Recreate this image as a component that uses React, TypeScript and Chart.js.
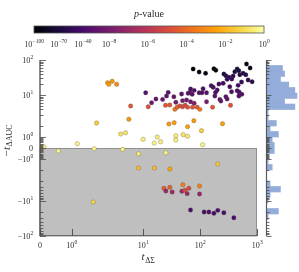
import React, { useEffect, useRef } from 'react';
import { Chart, registerables, LinearScale } from 'chart.js';

// ---------------- data ----------------
const xVals = [
  75.7, 96.4, 125, 175, 189, 654, 757, 262, 284, 324, 408, 448, 480, 499, 570, 636, 381, 361, 299, 698,
  821, 535, 466, 333, 254, 214, 157, 170, 200, 187, 130, 113, 96.4, 108, 78.8, 68.1, 66.2, 72.7, 61.8, 47.4,
  34.7, 27.6, 25.8, 22.0, 16.8, 14.1, 11.1, 223, 232, 182, 284, 299, 357, 448, 485, 541, 480, 37.6, 49.3, 58.0,
  68.1, 78.8, 130, 12.3, 24.8, 29.5, 36.1, 39.6, 44.2, 49.3, 54.8, 60.4, 73.9, 89.0, 99.1, 166, 343, 28.4, 35.1, 77.9,
  60.4, 248, 106, 37.6, 37.6, 50.5, 60.4, 17.7, 20.3, 15.7, 10.0, 111, 25.1, 2.38, 2.51, 2.87, 3.43, 6.04, 5.63, 1.79,
  4.03, 4.93, 0.126, 1.18, 0.58, 1.71, 4.37, 8.34, 8.34, 1.68, 15.9, 29.5, 205, 23.2, 25.1, 29.5, 32.4, 49.9, 47.9, 54.1,
  63.6, 59.4, 98.0, 98.0, 68.1, 118, 143, 175, 205, 262, 392,
];
const yVals = [
  55.3, 45.4, 41.7, 56.4, 50.8, 76.9, 59.1, 39.8, 35.6, 32.1, 46.4, 55.3, 49.4, 38.0, 41.7, 38.0, 34.9, 28.6, 28.1, 26.8,
  24.0, 23.5, 18.9, 17.3, 21.6, 20.6, 18.5, 16.6, 13.9, 11.9, 11.6, 15.1, 11.6, 11.6, 13.6, 14.8, 11.9, 10.5, 11.2, 10.7,
  8.9, 11.9, 9.4, 7.5, 7.7, 6.0, 11.6, 7.5, 6.7, 9.4, 8.9, 7.7, 12.4, 13.3, 12.2, 10.5, 9.4, 6.2, 6.9, 7.2,
  6.4, 5.8, 6.4, 4.6, 5.1, 5.2, 3.9, 4.5, 4.9, 4.6, 5.1, 4.5, 4.5, 4.5, 3.9, 4.5, 5.1, 2.18, 2.30, 2.48,
  1.94, 2.21, 1.57, 1.12, 0.73, 1.21, 1.06, 1.0, 0.57, 0.45, 0.79, 0.30, -0.43, 22.4, 20.2, 24.6, 20.2, 4.85, 2.61, 2.27,
  1.27, 1.39, 0.12, 0.39, -0.27, -0.06, -0.12, -0.52, -1.82, -10.7, -1.82, -1.91, -1.45, -4.33, -5.18, -4.06, -5.53, -3.42, -5.28, -4.94,
  -4.33, -6.18, -3.73, -6.31, -18.1, -20.6, -20.6, -22.5, -18.5, -21.6, -30.0,
];
// log10 of the p-value of each point
const logP = [
  -100, -95, -92, -98, -96, -90, -88, -65, -60, -58, -70, -72, -68, -60, -62, -60, -55, -50, -52, -55,
  -58, -50, -45, -42, -45, -42, -40, -40, -35, -30, -30, -38, -30, -32, -35, -38, -30, -28, -28, -25,
  -22, -28, -22, -18, -18, -12, -28, -20, -18, -25, -25, -22, -35, -38, -35, -32, -30, -8, -9, -10,
  -8, -7.5, -7.8, -4.8, -4.6, -4.4, -3.6, -4.2, -4.8, -4.9, -5.0, -4.8, -4.7, -4.5, -3.6, -4.6, -4.8, -2.6, -2.6, -2.7,
  -2.5, -2.5, -1.4, -0.6, -0.5, -0.8, -0.7, -0.6, -0.5, -0.4, -0.5, -0.4, -0.4, -2.6, -2.6, -2.8, -3.0, -4.6, -2.8, -1.5,
  -0.8, -0.8, -0.3, -0.4, -0.4, -0.3, -0.4, -0.6, -1.8, -1.2, -1.8, -2.4, -1.6, -4.3, -6.9, -4.3, -6.9, -3.4, -6.8, -5.0,
  -5.0, -6.9, -3.3, -7.0, -36, -38, -38, -40, -36, -38, -40,
];
// marginal histogram of −tΔAUC (bins from top to bottom)
const histCounts = [1, 8, 9, 7, 11, 14, 15, 9, 14, 1, 1, 5, 2, 6, 3, 4, 4, 1, 1, 3, 0, 0, 2, 7, 2, 1, 0, 6, 1, 0, 0, 0];

const xMajorTicks = [0, 1, 10, 100, 1000];
const yMajorTicks = [-100, -10, -1, 0, 1, 10, 100];
const cbarTicks = [-100, -70, -40, -8, -6, -4, -2, 0];
const cbarMin = -100;
const cbarBreak = -8;
const cbarMax = 0;

// ---------------- symlog scale ----------------
class SymlogScale extends LinearScale {
  static id = 'symlog';
  static defaults = {};
  fwd(v: number) {
    const o: any = this.options;
    const c = o.linthresh ?? 1;
    const L = o.linscaleAdj ?? 1;
    const a = Math.abs(v);
    return a <= c ? v * L : Math.sign(v) * c * (L + Math.log10(a / c));
  }
  inv(u: number) {
    const o: any = this.options;
    const c = o.linthresh ?? 1;
    const L = o.linscaleAdj ?? 1;
    const a = Math.abs(u);
    if (a <= c * L) return u / L;
    return Math.sign(u) * c * Math.pow(10, a / c - L);
  }
  configure() {
    super.configure();
    (this as any)._fmin = this.fwd(this.min);
    (this as any)._fmax = this.fwd(this.max);
  }
  getPixelForValue(value: any) {
    if (value === null || value === undefined || isNaN(value)) return NaN;
    const fmin = (this as any)._fmin, fmax = (this as any)._fmax;
    return this.getPixelForDecimal((this.fwd(value) - fmin) / (fmax - fmin));
  }
  getValueForPixel(pixel: number) {
    const fmin = (this as any)._fmin, fmax = (this as any)._fmax;
    return this.inv(fmin + this.getDecimalForPixel(pixel) * (fmax - fmin));
  }
}

Chart.register(...registerables);
Chart.register(SymlogScale as any);

// ---------------- colour map ----------------
const INFERNO = ['#000004', '#160b39', '#420a68', '#6a176e', '#932667', '#bc3754', '#dd513a', '#f37819', '#fca50a', '#f6d746', '#fcffa4'];
function hexToRgb(h: string) {
  return [parseInt(h.slice(1, 3), 16), parseInt(h.slice(3, 5), 16), parseInt(h.slice(5, 7), 16)];
}
function inferno(t: number) {
  t = Math.max(0, Math.min(1, t));
  const s = t * (INFERNO.length - 1);
  const i = Math.min(INFERNO.length - 2, Math.floor(s));
  const f = s - i;
  const a = hexToRgb(INFERNO[i]), b = hexToRgb(INFERNO[i + 1]);
  const c = a.map((v, k) => Math.round(v + (b[k] - v) * f));
  return `rgb(${c[0]},${c[1]},${c[2]})`;
}
const BREAK_FRAC = 0.326;
function normP(lp: number) {
  if (lp <= cbarBreak) return (BREAK_FRAC * (lp - cbarMin)) / (cbarBreak - cbarMin);
  return BREAK_FRAC + ((1 - BREAK_FRAC) * (lp - cbarBreak)) / (cbarMax - cbarBreak);
}

// ---------------- text helpers ----------------
const SERIF = '"Liberation Serif", "DejaVu Serif", serif';
const TXT = '#2b2b2b';
function drawPow(ctx: CanvasRenderingContext2D, base: string, exp: string, x: number, y: number, align: string, bs: number, es: number) {
  ctx.font = `${bs}px ${SERIF}`;
  const wb = ctx.measureText(base).width;
  let we = 0;
  if (exp) {
    ctx.font = `${es}px ${SERIF}`;
    we = ctx.measureText(exp).width;
  }
  const w = wb + we;
  const sx = align === 'right' ? x - w : align === 'center' ? x - w / 2 : x;
  ctx.textAlign = 'left';
  ctx.textBaseline = 'alphabetic';
  ctx.fillStyle = TXT;
  ctx.font = `${bs}px ${SERIF}`;
  ctx.fillText(base, sx, y + bs * 0.33);
  if (exp) {
    ctx.font = `${es}px ${SERIF}`;
    ctx.fillText(exp, sx + wb + 0.3, y + bs * 0.33 - bs * 0.45);
  }
}
function powParts(v: number): [string, string] {
  if (v === 0) return ['0', ''];
  const sign = v < 0 ? '\u2212' : '';
  return [sign + '10', String(Math.round(Math.log10(Math.abs(v))))];
}
function minorTicks(): number[] {
  const out: number[] = [];
  for (let k = 1; k <= 9; k++) {
    out.push(k / 10, k, k * 10);
  }
  const res: number[] = [];
  out.forEach((v) => {
    if (v !== 1 && v !== 10) {
      res.push(v, -v);
    }
  });
  return res;
}
const Y_MINOR = minorTicks();

function drawYTicks(ctx: CanvasRenderingContext2D, scale: any, x: number, majLen: number, minLen: number, color: string) {
  ctx.strokeStyle = color;
  ctx.lineWidth = 0.8;
  ctx.beginPath();
  Y_MINOR.forEach((v) => {
    const py = Math.round(scale.getPixelForValue(v)) + 0.5;
    ctx.moveTo(x, py);
    ctx.lineTo(x + minLen, py);
  });
  yMajorTicks.forEach((v) => {
    const py = Math.round(scale.getPixelForValue(v)) + 0.5;
    ctx.moveTo(x, py);
    ctx.lineTo(x + majLen, py);
  });
  ctx.stroke();
}

// ---------------- plugins ----------------
const mainDecor = {
  id: 'mainDecor',
  beforeDatasetsDraw(chart: any) {
    const { ctx } = chart;
    const x = chart.scales.x, y = chart.scales.y;
    const x0 = x.getPixelForValue(0), x1 = x.getPixelForValue(1000);
    const y0 = y.getPixelForValue(0), y1 = y.getPixelForValue(-100);
    ctx.save();
    ctx.fillStyle = '#bfbfbf';
    ctx.fillRect(x0, y0, x1 - x0, y1 - y0);
    ctx.strokeStyle = '#8f8f8f';
    ctx.lineWidth = 1;
    ctx.strokeRect(x0, Math.round(y0) + 0.5, x1 - x0 - 0.5, y1 - Math.round(y0) - 0.5);
    ctx.restore();
  },
  afterDatasetsDraw(chart: any) {
    const { ctx } = chart;
    const x = chart.scales.x, y = chart.scales.y;
    const left = x.getPixelForValue(0);
    const right = x.getPixelForValue(1000);
    const top = y.getPixelForValue(100);
    const bottom = y.getPixelForValue(-100);
    ctx.save();
    // spines
    ctx.strokeStyle = '#5a5a5a';
    ctx.lineWidth = 1.4;
    ctx.beginPath();
    ctx.moveTo(left, top);
    ctx.lineTo(left, bottom);
    ctx.stroke();
    ctx.strokeStyle = '#6a6a6a';
    ctx.lineWidth = 1;
    ctx.beginPath();
    ctx.moveTo(left, bottom - 0.5);
    ctx.lineTo(right, bottom - 0.5);
    ctx.stroke();
    // y ticks
    drawYTicks(ctx, y, left, 6, 3.5, '#4a4a4a');
    // x ticks
    ctx.strokeStyle = '#4a4a4a';
    ctx.lineWidth = 0.9;
    ctx.beginPath();
    xMajorTicks.forEach((v) => {
      const px = Math.round(x.getPixelForValue(v)) + 0.5;
      ctx.moveTo(px, bottom);
      ctx.lineTo(px, bottom - 7);
    });
    ctx.stroke();
    // tick labels
    yMajorTicks.forEach((v) => {
      const [b, e] = powParts(v);
      drawPow(ctx, b, e, left - 7, y.getPixelForValue(v), 'right', 8, 5.5);
    });
    xMajorTicks.forEach((v) => {
      const [b, e] = powParts(v);
      drawPow(ctx, b, e, x.getPixelForValue(v), bottom + 9, 'center', 8, 5.5);
    });
    // x label
    ctx.fillStyle = TXT;
    ctx.textBaseline = 'alphabetic';
    ctx.textAlign = 'left';
    ctx.font = `italic 11px ${SERIF}`;
    const wt = ctx.measureText('t').width;
    ctx.font = `8px ${SERIF}`;
    const ws = ctx.measureText('\u0394\u03a3').width;
    let sx = 148 - (wt + ws) / 2;
    ctx.font = `italic 11px ${SERIF}`;
    ctx.fillText('t', sx, 260);
    ctx.font = `8px ${SERIF}`;
    ctx.fillText('\u0394\u03a3', sx + wt + 0.5, 262.5);
    // y label
    ctx.save();
    ctx.translate(9.5, 141);
    ctx.rotate(-Math.PI / 2);
    ctx.font = `11px ${SERIF}`;
    const wm = ctx.measureText('\u2212').width;
    ctx.font = `italic 11px ${SERIF}`;
    const wt2 = ctx.measureText('t').width;
    ctx.font = `8px ${SERIF}`;
    const wsub = ctx.measureText('\u0394AUC').width;
    sx = -(wm + wt2 + wsub) / 2;
    ctx.font = `11px ${SERIF}`;
    ctx.fillText('\u2212', sx, 0);
    ctx.font = `italic 11px ${SERIF}`;
    ctx.fillText('t', sx + wm + 0.5, 0);
    ctx.font = `8px ${SERIF}`;
    ctx.fillText('\u0394AUC', sx + wm + wt2 + 1, 2.5);
    ctx.restore();

    // colour bar
    const cbL = 34, cbR = 264, cbT = 26, cbH = 7;
    const grad = ctx.createLinearGradient(cbL, 0, cbR, 0);
    INFERNO.forEach((c, i) => grad.addColorStop(i / (INFERNO.length - 1), c));
    ctx.fillStyle = grad;
    ctx.fillRect(cbL, cbT, cbR - cbL, cbH);
    ctx.strokeStyle = '#555';
    ctx.lineWidth = 0.8;
    ctx.strokeRect(cbL, cbT, cbR - cbL, cbH);
    cbarTicks.forEach((lp) => {
      const px = cbL + normP(lp) * (cbR - cbL);
      const e = lp < 0 ? '\u2212' + String(-lp) : String(lp);
      drawPow(ctx, '10', e, px, 44, 'center', 8, 5.5);
    });
    // colour bar title
    ctx.fillStyle = TXT;
    ctx.font = `italic 10px ${SERIF}`;
    const wp = ctx.measureText('p').width;
    ctx.font = `10px ${SERIF}`;
    const wv = ctx.measureText('-value').width;
    sx = 149 - (wp + wv) / 2;
    ctx.font = `italic 10px ${SERIF}`;
    ctx.fillText('p', sx, 16.5);
    ctx.font = `10px ${SERIF}`;
    ctx.fillText('-value', sx + wp, 16.5);
    ctx.restore();
  },
};

const histDecor = {
  id: 'histDecor',
  afterDatasetsDraw(chart: any) {
    const { ctx, chartArea } = chart;
    const ys = chart.scales.ys;
    const x = chartArea.left + 0.5;
    ctx.save();
    ctx.strokeStyle = '#5a5a5a';
    ctx.lineWidth = 1.2;
    ctx.beginPath();
    ctx.moveTo(x, ys.getPixelForValue(100));
    ctx.lineTo(x, ys.getPixelForValue(-100));
    ctx.stroke();
    drawYTicks(ctx, ys, x, 5, 3, '#4a4a4a');
    ctx.restore();
  },
};

export default function App() {
  const mainRef = useRef<HTMLCanvasElement>(null);
  const histRef = useRef<HTMLCanvasElement>(null);

  useEffect(() => {
    const points = xVals.map((xv, i) => ({ x: xv, y: yVals[i] }));
    const colors = logP.map((lp) => inferno(normP(lp)));
    const main = new Chart(mainRef.current as HTMLCanvasElement, {
      type: 'scatter',
      data: {
        datasets: [
          {
            data: points,
            backgroundColor: colors,
            borderColor: 'rgba(70,70,60,0.55)',
            borderWidth: 0.5,
            pointRadius: 2.2,
            pointHoverRadius: 2.2,
          } as any,
        ],
      },
      options: {
        animation: false,
        responsive: false,
        maintainAspectRatio: false,
        events: [],
        layout: { padding: { left: 40, top: 60, right: 42, bottom: 36 } },
        plugins: { legend: { display: false }, tooltip: { enabled: false } },
        scales: {
          x: { type: 'symlog', min: 0, max: 1000, display: false, linthresh: 2, linscaleAdj: 1.111 } as any,
          y: { type: 'symlog', min: -100, max: 100, display: false, linthresh: 3.27, linscaleAdj: 1.028 } as any,
        },
      },
      plugins: [mainDecor],
    });

    const hist = new Chart(histRef.current as HTMLCanvasElement, {
      type: 'bar',
      data: {
        labels: histCounts.map((_, i) => String(i)),
        datasets: [
          {
            data: histCounts,
            backgroundColor: '#93acd9',
            borderWidth: 0,
            barPercentage: 1,
            categoryPercentage: 1,
          },
        ],
      },
      options: {
        indexAxis: 'y',
        animation: false,
        responsive: false,
        maintainAspectRatio: false,
        events: [],
        layout: { padding: { left: 266, top: 60, right: 0, bottom: 36 } },
        plugins: { legend: { display: false }, tooltip: { enabled: false } },
        scales: {
          y: { type: 'category', display: false, offset: true },
          x: { type: 'linear', min: 0, max: 16, display: false },
          ys: { type: 'symlog', axis: 'y', position: 'left', min: -100, max: 100, display: false, linthresh: 3.27, linscaleAdj: 1.028 } as any,
        },
      },
      plugins: [histDecor],
    });

    return () => {
      main.destroy();
      hist.destroy();
    };
  }, []);

  return (
    <div style={{ position: 'absolute', left: 0, top: 0, width: 299, height: 272, background: '#fff' }}>
      <canvas ref={mainRef} width={299} height={272} style={{ position: 'absolute', left: 0, top: 0 }} />
      <canvas ref={histRef} width={299} height={272} style={{ position: 'absolute', left: 0, top: 0, pointerEvents: 'none' }} />
    </div>
  );
}
